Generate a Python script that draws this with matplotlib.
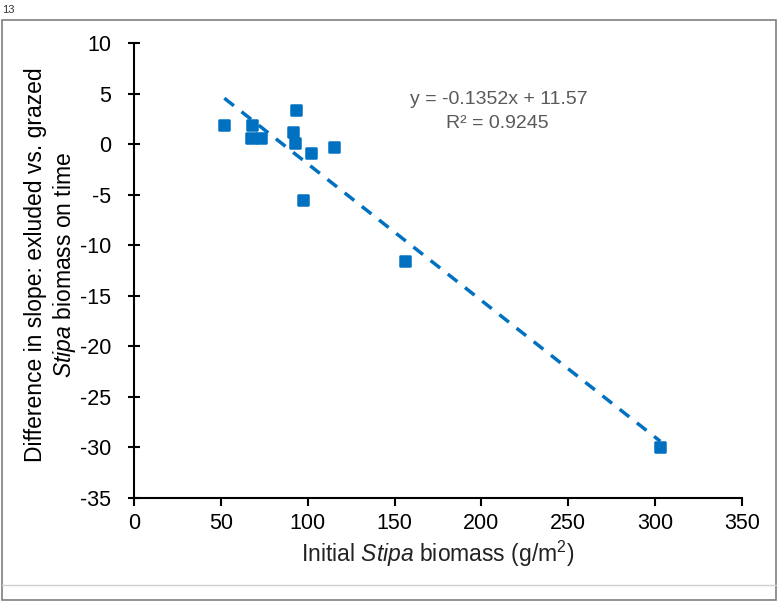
import matplotlib
matplotlib.use("Agg")
import matplotlib.pyplot as plt
from matplotlib.patches import Rectangle
from matplotlib.lines import Line2D
from matplotlib.markers import MarkerStyle
import numpy as np

plt.rcParams['font.family'] = ['Liberation Sans', 'DejaVu Sans']
plt.rcParams['mathtext.fontset'] = 'custom'
plt.rcParams['mathtext.rm'] = 'Liberation Sans'
plt.rcParams['mathtext.it'] = 'Liberation Sans:italic'
plt.rcParams['axes.unicode_minus'] = False

x_biomass = [52, 68, 67.5, 73, 93.5, 91.5, 92.5, 102, 115, 97.5, 156, 303]
y_diff = [1.9, 1.9, 0.6, 0.6, 3.4, 1.2, 0.1, -0.9, -0.3, -5.5, -11.6, -30]
slope = -0.1352
intercept = 11.57
xticks = [0, 50, 100, 150, 200, 250, 300, 350]
yticks = [10, 5, 0, -5, -10, -15, -20, -25, -30, -35]

blue = '#0070C0'
fig = plt.figure(figsize=(7.82, 6.06), dpi=100)
ax = fig.add_axes([134/782, 1-498/606, (742-134)/782, (498-43)/606])

mk = MarkerStyle('s', joinstyle='round')
ax.plot(x_biomass, y_diff, linestyle='none', marker=mk, ms=6.6, mew=1.8,
        color=blue, mec=blue, zorder=3)
xl = np.array([min(x_biomass), max(x_biomass)])
ax.plot(xl, slope*xl + intercept, linestyle=(0, (3.5, 2.8)), color=blue, lw=2.5, zorder=2)

ax.set_xlim(0, 350)
ax.set_ylim(-35, 10)
ax.set_xticks(xticks)
ax.set_yticks(yticks)
ax.spines['top'].set_visible(False)
ax.spines['right'].set_visible(False)
for s in ['left', 'bottom']:
    ax.spines[s].set_linewidth(1.5)
ax.tick_params(axis='x', direction='out', length=6, width=1.5, labelsize=15.5, pad=5)
ax.tick_params(axis='y', direction='inout', length=9, width=1.5, labelsize=15.5, pad=12)

ax.set_xlabel(r'Initial $\it{Stipa}$ biomass (g/m$^{2}$)', fontsize=16.5, color='#222222', labelpad=3)
fig.text(36/782, 1-265/606, 'Difference in slope: exluded vs. grazed', rotation=90,
         ha='center', va='center', fontsize=16.5)
fig.text(64/782, 1-265/606, r'$\it{Stipa}$ biomass on time', rotation=90,
         ha='center', va='center', fontsize=16.5)

fig.text(499/782, 1-100/606, 'y = -0.1352x + 11.57', ha='center', va='center', fontsize=14, color='#595959')
fig.text(497/782, 1-124/606, 'R² = 0.9245', ha='center', va='center', fontsize=14, color='#595959')

fig.text(2/782, 1-10/606, '13', ha='left', va='center', fontsize=8, color='#333333')
fig.patches.append(Rectangle((2/782, 1-600/606), 774/782, 580/606, transform=fig.transFigure,
                             fill=False, edgecolor='#7f7f7f', lw=1.2))
fig.lines.append(Line2D([2/782, 776/782], [1-585/606, 1-585/606], transform=fig.transFigure,
                        color='#d0d0d0', lw=1))

fig.savefig('out.png', dpi=100)
